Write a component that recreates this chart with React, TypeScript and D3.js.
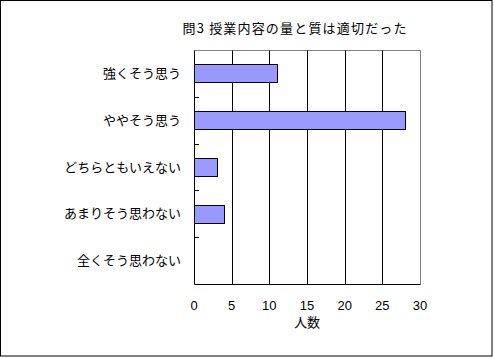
import React from "react";
import * as d3 from "d3";

const categories = ["強くそう思う", "ややそう思う", "どちらともいえない", "あまりそう思わない", "全くそう思わない"];
const values = [11, 28, 3, 4, 0];
const xTicks = [0, 5, 10, 15, 20, 25, 30];
const title = "問3 授業内容の量と質は適切だった";
const xTitle = "人数";

const W = 494;
const H = 358;
const FONT = "'Noto Sans CJK JP', 'DejaVu Sans', sans-serif";
const NUM_FONT = "'Liberation Sans', Arial, sans-serif";

export default function App() {
  const left = 194, right = 420, top = 50, bottom = 284;
  const x = d3.scaleLinear().domain([0, 30]).range([left, right]);
  const y = d3.scaleBand<string>().domain(categories).range([top, bottom]).padding(0);
  const px = (v: number) => Math.round(v) + 0.5;
  const barH = y.bandwidth() * 0.384;

  return (
    <svg width={W} height={H} style={{ position: "absolute", left: 0, top: 0, background: "#fff" }} fontFamily={FONT}>
      <rect x={0.5} y={0.5} width={491.5} height={355.5} fill="#fff" stroke="#000" strokeWidth={1} />
      <text x={294.5} y={33} textAnchor="middle" fontSize={13} fill="#000" textLength={224} lengthAdjust="spacing">{title}</text>

      {/* plot frame top/right gray */}
      <line x1={px(left)} x2={px(right)} y1={px(top)} y2={px(top)} stroke="#808080" />
      <line x1={px(right)} x2={px(right)} y1={px(top)} y2={px(bottom)} stroke="#808080" />

      {/* gridlines */}
      {xTicks.slice(1, -1).map((t) => (
        <line key={t} x1={px(x(t))} x2={px(x(t))} y1={px(top)} y2={px(bottom)} stroke="#000" />
      ))}

      {/* bars */}
      {categories.map((c, i) =>
        values[i] > 0 ? (
          <rect
            key={c}
            x={px(x(0))}
            y={px((y(c) as number) + y.bandwidth() / 2 - barH / 2)}
            width={Math.round(x(values[i])) - Math.round(x(0))}
            height={Math.round(barH)}
            fill="#9999FF"
            stroke="#000"
            strokeWidth={1}
          />
        ) : null
      )}

      {/* axes */}
      <line x1={px(left)} x2={px(left)} y1={px(top)} y2={px(bottom)} stroke="#000" />
      <line x1={px(left)} x2={px(right)} y1={px(bottom)} y2={px(bottom)} stroke="#000" />
      {categories.slice(1).map((c) => (
        <line key={c} x1={left} x2={left + 5} y1={px(y(c) as number)} y2={px(y(c) as number)} stroke="#000" />
      ))}

      {/* category labels */}
      {categories.map((c) => (
        <text key={c} x={181} y={(y(c) as number) + y.bandwidth() / 2 + 4.5} textAnchor="end" fontSize={13} fill="#000">
          {c}
        </text>
      ))}

      {/* x tick labels */}
      {xTicks.map((t) => (
        <text key={t} x={x(t)} y={309.5} textAnchor="middle" fontSize={13} fill="#000" fontFamily={NUM_FONT}>
          {t}
        </text>
      ))}
      <text x={307} y={327} textAnchor="middle" fontSize={13} fill="#000">{xTitle}</text>
    </svg>
  );
}
